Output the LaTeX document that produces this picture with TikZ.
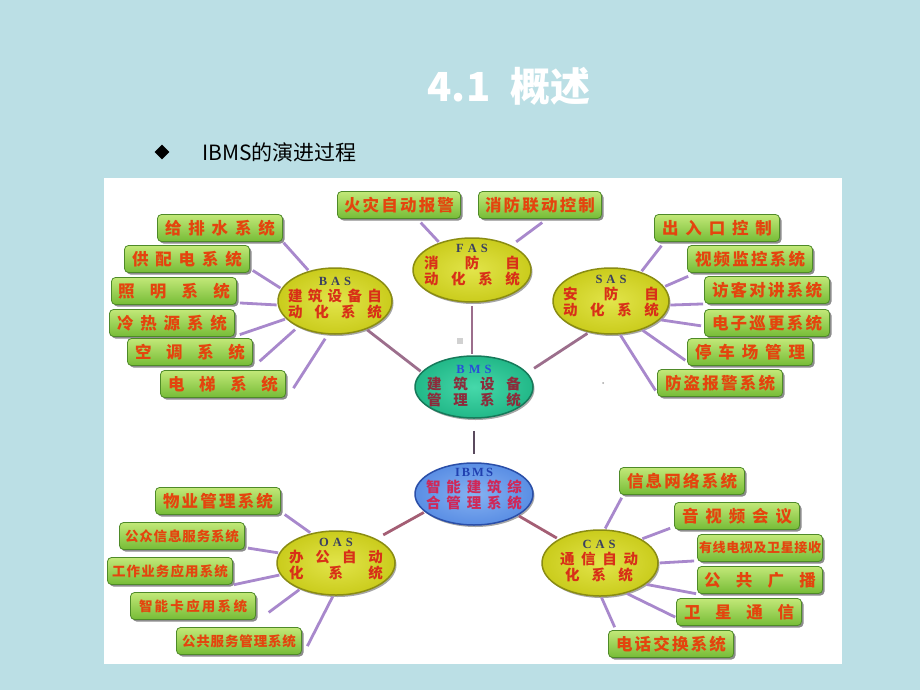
\documentclass[tikz,border=0pt]{standalone}
\usepackage{fontspec}
\newfontfamily\cjk{Noto Sans CJK SC}
\newfontfamily\hdfont{Liberation Serif}
\usetikzlibrary{shapes.geometric,shadows,calc}
\definecolor{bg}{HTML}{BBDFE5}
\definecolor{boxtop}{HTML}{C2E878}
\definecolor{boxbot}{HTML}{76BC36}
\definecolor{boxedge}{HTML}{4E8A28}
\definecolor{boxtext}{HTML}{E4440E}
\definecolor{yin}{HTML}{E2E44A}
\definecolor{yout}{HTML}{CACC1C}
\definecolor{yedge}{HTML}{8A8C12}
\definecolor{tin}{HTML}{46D8AA}
\definecolor{tout}{HTML}{22B888}
\definecolor{tedge}{HTML}{167A5A}
\definecolor{bin}{HTML}{86B2F2}
\definecolor{bout}{HTML}{5A8EE4}
\definecolor{bedge}{HTML}{2A4EA8}
\definecolor{lkc}{HTML}{A888CC}
\definecolor{clk}{HTML}{9C6E8C}
\definecolor{dlk}{HTML}{5A4A5E}
\definecolor{rlk}{HTML}{A45E74}
\definecolor{ehead}{HTML}{3A4060}
\definecolor{etred}{HTML}{D83018}
\definecolor{bmshead}{HTML}{2850D8}
\definecolor{bmsred}{HTML}{8C2C3C}
\definecolor{ibmshead}{HTML}{2040B0}
\definecolor{ibmsred}{HTML}{D02858}
\begin{document}
\begin{tikzpicture}[x=1pt,y=-1pt,
  gbox/.style={rounded corners=4pt, minimum width=125pt, minimum height=27pt, inner sep=0pt,
    top color=boxtop, bottom color=boxbot, draw=boxedge, line width=0.8pt,
    drop shadow={shadow xshift=2pt, shadow yshift=-2pt, fill=black, opacity=0.45},
    text=boxtext, font=\cjk\bfseries\fontsize{16.5}{16.5}\selectfont},
  gsmall/.style={font=\cjk\bfseries\fontsize{13.5}{14}\selectfont},
  yell/.style={ellipse, minimum width=116pt, minimum height=65pt, inner sep=0pt,
    draw=yedge, line width=1.5pt, inner color=yin, outer color=yout,
    drop shadow={shadow xshift=1.5pt, shadow yshift=-2pt, opacity=0.35, fill=black}},
  tell/.style={yell, draw=tedge, inner color=tin, outer color=tout},
  bell/.style={yell, draw=bedge, inner color=bin, outer color=bout},
  etext/.style={align=center, inner sep=0pt, text=etred,
    font=\cjk\bfseries\fontsize{14.5}{15.5}\selectfont},
  lk/.style={draw=lkc, line width=2.8pt, shorten >=1pt, shorten <=1pt},
  ck/.style={line width=2.8pt, shorten >=1pt, shorten <=1pt}
]
\newcommand\hd[1]{{\hdfont\bfseries\fontsize{12.5}{12.5}\selectfont #1}}
% background and panel
\fill[bg] (0,0) rectangle (920,690);
\fill[white] (104,178) rectangle (842,664);
\useasboundingbox (0,0) rectangle (920,690);

% title and bullet
\node[text=white, font=\cjk\bfseries\fontsize{40}{40}\selectfont] (title) at (509,86) {4.1\hspace{0.5em}概述};
\node[diamond, fill=black, minimum width=15pt, minimum height=15pt, inner sep=0pt] (bul) at (162,152) {};
\node[anchor=west, inner sep=0pt, font=\cjk\fontsize{21}{21}\selectfont] (btxt) at (202,152) {IBMS的演进过程};

% artefacts
\fill[black!18] (457,338) rectangle (463,344);
\fill[black!35] (603,383) circle (1pt);

% ellipses
\node[yell, minimum width=114pt, minimum height=66pt] (bas) at (335,301) {};
\node[yell, minimum width=118pt, minimum height=64pt] (fas) at (472,270) {};
\node[yell, minimum width=116pt, minimum height=66pt] (sas) at (611,301) {};
\node[tell, minimum width=118pt, minimum height=62pt] (bms) at (474,387) {};
\node[bell, minimum width=118pt, minimum height=62pt] (ibms) at (474,494) {};
\node[yell, minimum width=118pt, minimum height=64pt] (oas) at (336,563) {};
\node[yell, minimum width=116pt, minimum height=66pt] (cas) at (600,563) {};

\node[etext] (bast) at (335,298) {\textcolor{ehead}{\hd{B\hspace{4pt}A\hspace{4pt}S}}\\[1pt]
  \makebox[94pt]{建\hfill 筑\hfill 设\hfill 备\hfill 自}\\\makebox[94pt]{动\hfill 化\hfill 系\hfill 统}};
\node[etext] (fast) at (472,265) {\textcolor{ehead}{\hd{F\hspace{4pt}A\hspace{4pt}S}}\\[1pt]
  \makebox[96pt]{消\hfill 防\hfill 自}\\\makebox[96pt]{动\hfill 化\hfill 系\hfill 统}};
\node[etext] (sast) at (611,296) {\textcolor{ehead}{\hd{S\hspace{4pt}A\hspace{4pt}S}}\\[1pt]
  \makebox[96pt]{安\hfill 防\hfill 自}\\\makebox[96pt]{动\hfill 化\hfill 系\hfill 统}};
\node[etext, text=bmsred] (bmst) at (474,386) {\textcolor{bmshead}{\hd{B\hspace{4pt}M\hspace{4pt}S}}\\[1pt]
  \makebox[94pt]{建\hfill 筑\hfill 设\hfill 备}\\\makebox[94pt]{管\hfill 理\hfill 系\hfill 统}};
\node[etext, text=ibmsred] (ibmst) at (474,489) {\textcolor{ibmshead}{\hd{I\hspace{2pt}B\hspace{2pt}M\hspace{2pt}S}}\\[1pt]
  \makebox[96pt]{智\hfill 能\hfill 建\hfill 筑\hfill 综}\\\makebox[96pt]{合\hfill 管\hfill 理\hfill 系\hfill 统}};
\node[etext] (oast) at (336,559) {\textcolor{ehead}{\hd{O\hspace{4pt}A\hspace{4pt}S}}\\[1pt]
  \makebox[94pt]{办\hfill 公\hfill 自\hfill 动}\\\makebox[94pt]{化\hfill 系\hfill 统}};
\node[etext] (cast) at (599,561) {\textcolor{ehead}{\hd{C\hspace{4pt}A\hspace{4pt}S}}\\[1pt]
  \makebox[78pt]{通\hfill 信\hfill 自\hfill 动}\\\makebox[68pt]{化\hfill 系\hfill 统}};

% BAS boxes
\node[gbox] (b1) at (220,228) {\makebox[110pt]{给\hfill 排\hfill 水\hfill 系\hfill 统}};
\node[gbox] (b2) at (187,259) {\makebox[110pt]{供\hfill 配\hfill 电\hfill 系\hfill 统}};
\node[gbox] (b3) at (174,291) {\makebox[112pt]{照\hfill 明\hfill 系\hfill 统}};
\node[gbox] (b4) at (172,323) {\makebox[110pt]{冷\hfill 热\hfill 源\hfill 系\hfill 统}};
\node[gbox] (b5) at (190,352) {\makebox[110pt]{空\hfill 调\hfill 系\hfill 统}};
\node[gbox] (b6) at (223,384) {\makebox[110pt]{电\hfill 梯\hfill 系\hfill 统}};
% FAS boxes
\node[gbox, minimum width=123pt] (f1) at (399,205) {\makebox[110pt]{火\hfill 灾\hfill 自\hfill 动\hfill 报\hfill 警}};
\node[gbox, minimum width=123pt] (f2) at (540,205) {\makebox[110pt]{消\hfill 防\hfill 联\hfill 动\hfill 控\hfill 制}};
% SAS boxes
\node[gbox] (s1) at (717,228) {\makebox[110pt]{出\hfill 入\hfill 口\hfill 控\hfill 制}};
\node[gbox] (s2) at (750,259) {\makebox[110pt]{视\hfill 频\hfill 监\hfill 控\hfill 系\hfill 统}};
\node[gbox] (s3) at (767,290) {\makebox[110pt]{访\hfill 客\hfill 对\hfill 讲\hfill 系\hfill 统}};
\node[gbox] (s4) at (767,323) {\makebox[110pt]{电\hfill 子\hfill 巡\hfill 更\hfill 系\hfill 统}};
\node[gbox] (s5) at (750,352) {\makebox[110pt]{停\hfill 车\hfill 场\hfill 管\hfill 理}};
\node[gbox] (s6) at (720,383) {\makebox[110pt]{防\hfill 盗\hfill 报\hfill 警\hfill 系\hfill 统}};
% OAS boxes
\node[gbox] (o1) at (218,501) {\makebox[110pt]{物\hfill 业\hfill 管\hfill 理\hfill 系\hfill 统}};
\node[gbox, gsmall] (o2) at (182,536) {\makebox[114pt]{公\hfill 众\hfill 信\hfill 息\hfill 服\hfill 务\hfill 系\hfill 统}};
\node[gbox, gsmall] (o3) at (170,571) {\makebox[116pt]{工\hfill 作\hfill 业\hfill 务\hfill 应\hfill 用\hfill 系\hfill 统}};
\node[gbox, gsmall] (o4) at (193,606) {\makebox[108pt]{智\hfill 能\hfill 卡\hfill 应\hfill 用\hfill 系\hfill 统}};
\node[gbox, gsmall] (o5) at (239,641) {\makebox[114pt]{公\hfill 共\hfill 服\hfill 务\hfill 管\hfill 理\hfill 系\hfill 统}};
% CAS boxes
\node[gbox] (c1) at (682,481) {\makebox[110pt]{信\hfill 息\hfill 网\hfill 络\hfill 系\hfill 统}};
\node[gbox] (c2) at (737,516) {\makebox[110pt]{音\hfill 视\hfill 频\hfill 会\hfill 议}};
\node[gbox, font=\cjk\bfseries\fontsize{13}{13}\selectfont] (c3) at (760,548) {\makebox[122pt]{有\hfill 线\hfill 电\hfill 视\hfill 及\hfill 卫\hfill 星\hfill 接\hfill 收}};
\node[gbox] (c4) at (760,580) {\makebox[112pt]{公\hfill 共\hfill 广\hfill 播}};
\node[gbox] (c5) at (739,612) {\makebox[110pt]{卫\hfill 星\hfill 通\hfill 信}};
\node[gbox] (c6) at (671,644) {\makebox[110pt]{电\hfill 话\hfill 交\hfill 换\hfill 系\hfill 统}};

% BAS links
\draw[lk] (b1.south east) -- (bas.131);
\draw[lk] ($(b2.south east)+(2,-3)$) -- (bas.167);
\draw[lk] ($(b3.south east)+(2,-2)$) -- (bas.184);
\draw[lk] ($(b4.south east)+(4,-2)$) -- (bas.200);
\draw[lk, shorten >=4pt] ($(b5.south east)+(6,-4)$) -- (bas.215);
\draw[lk, shorten >=5pt] ($(b6.east)+(7,5)$) -- (bas.258);
% FAS links
\draw[lk] ($(f1.south)!0.34!(f1.south east)+(0,3)$) -- (fas.140);
\draw[lk, shorten >=6pt] ($(f2.south)+(3,3)$) -- (fas.32);
% SAS links
\draw[lk] ($(s1.south west)+(8,3)$) -- (sas.44);
\draw[lk] ($(s2.south west)+(2,3)$) -- (sas.15);
\draw[lk] (s3.south west) -- (sas.356);
\draw[lk] ($(s4.west)+(-2,3)$) -- (sas.339);
\draw[lk] ($(s5.south west)+(-1,-5)$) -- (sas.317);
\draw[lk] ($(s6.west)!0.6!(s6.south west)+(-1,0)$) -- (sas.285);
% OAS links
\draw[lk] ($(o1.south east)+(3,-1)$) -- (oas.130);
\draw[lk] ($(o2.south east)+(2,-2)$) -- (oas.170);
\draw[lk] (o3.south east) -- (oas.192);
\draw[lk] ($(o4.east)+(12,7)$) -- (oas.216);
\draw[lk] ($(o5.east)+(5,6)$) -- (oas.265);
% CAS links
\draw[lk] ($(c1.south west)+(3,2)$) -- (cas.82);
\draw[lk] ($(c2.south west)+(-3,-2)$) -- (cas.30);
\draw[lk] ($(c3.south west)+(-2,-1)$) -- (cas.0);
\draw[lk] (c4.south west) -- (cas.335);
\draw[lk] ($(c5.west)!0.4!(c5.south west)$) -- (cas.311);
\draw[lk] ($(c6.north west)+(7,-2)$) -- (cas.272);

% central links
\draw[ck, draw=clk] (bas.318) -- (bms.164);
\draw[ck, draw=clk, shorten <=3pt, shorten >=1pt] (fas.south) -- (fas.south |- bms.north);
\draw[ck, draw=clk, shorten <=2pt, shorten >=8pt] (sas.235) -- (bms.15);
\draw[ck, draw=dlk, shorten <=12pt, shorten >=8pt] (bms.south) -- (ibms.north);
\draw[ck, draw=rlk, shorten <=8pt, shorten >=1pt] (oas.31) -- (ibms.200);
\draw[ck, draw=rlk, shorten <=1pt, shorten >=2pt] (ibms.334) -- (cas.150);
\end{tikzpicture}
\end{document}
